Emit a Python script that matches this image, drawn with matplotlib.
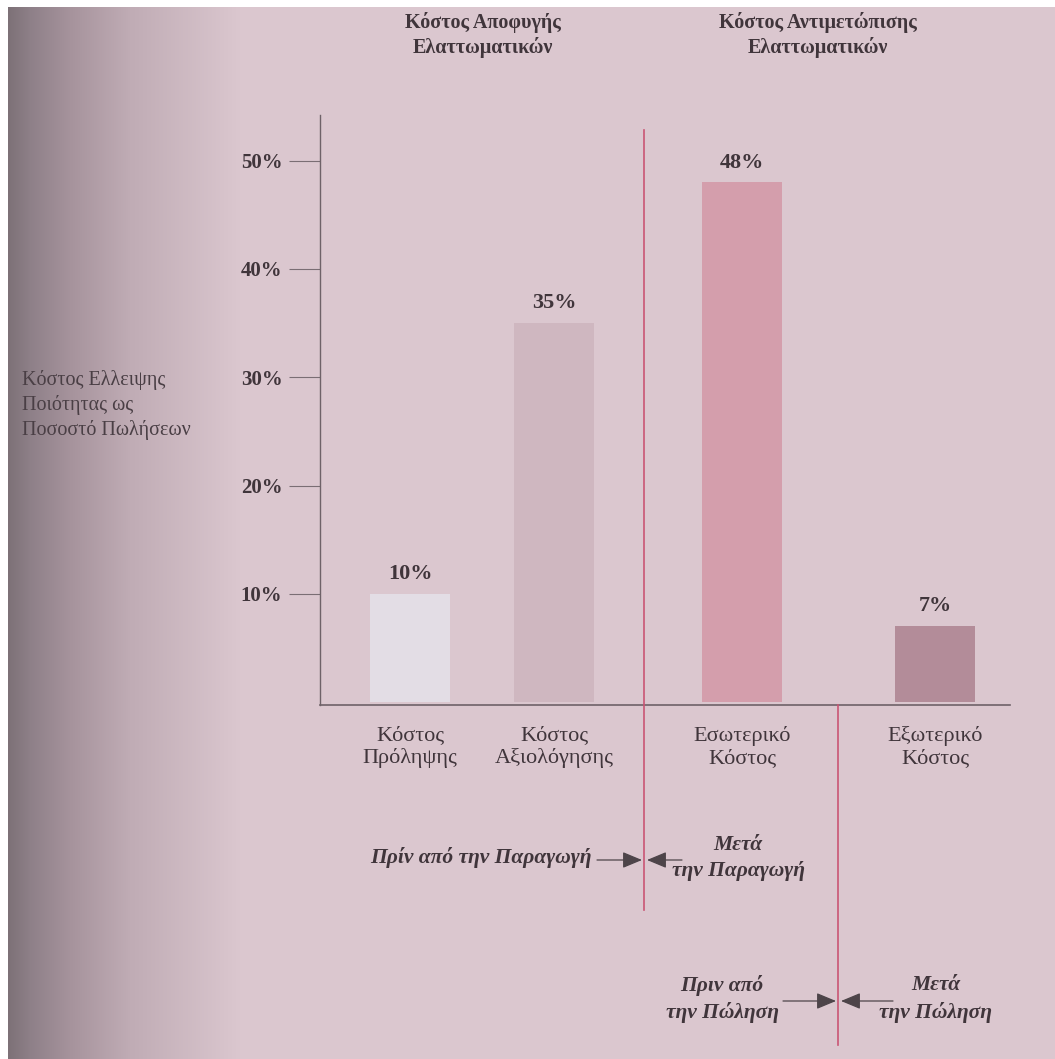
import numpy as np
import matplotlib
matplotlib.use("Agg")
import matplotlib.pyplot as plt
from matplotlib.colors import to_rgb
from matplotlib.patches import FancyArrowPatch

# ---- data ----
categories = ["Κόστος\nΠρόληψης", "Κόστος\nΑξιολόγησης", "Εσωτερικό\nΚόστος", "Εξωτερικό\nΚόστος"]
values = [10, 35, 48, 7]
value_labels = ["10%", "35%", "48%", "7%"]
yticks = [10, 20, 30, 40, 50]
ytick_labels = ["10%", "20%", "30%", "40%", "50%"]
group_titles = ["Κόστος Αποφυγής\nΕλαττωματικών", "Κόστος Αντιμετώπισης\nΕλαττωματικών"]
ylabel_text = "Κόστος Ελλειψης\nΠοιότητας ως\nΠοσοστό Πωλήσεων"

# ---- layout ----
W, H = 1055, 1059
pos = [90, 234, 422, 615]
bar_w = 80
bar_colors = ["#e3dde5", "#cfb7c0", "#d49eac", "#b38c99"]
bg = "#dbc7cf"
red = "#c95574"
txt = "#40353b"
serif = ["Liberation Serif", "DejaVu Serif"]

fig = plt.figure(figsize=(W / 100, H / 100), dpi=100)

# background (scanned page with shadow on left)
bax = fig.add_axes([0, 0, 1, 1], zorder=-10)
xs = np.arange(W)
stops_x = [0, 7, 8, 30, 70, 130, 240, W]
stops_c = [(1, 1, 1), (1, 1, 1), to_rgb("#7d7177"), to_rgb("#8e8088"),
           to_rgb("#a6939c"), to_rgb("#c0acb5"), to_rgb(bg), to_rgb(bg)]
row = np.stack([np.interp(xs, stops_x, [c[i] for c in stops_c]) for i in range(3)], axis=1)
img = np.repeat(row[None, :, :], H, axis=0)
img[:7, 8:, :] = 1.0
bax.imshow(img, aspect="auto", extent=[0, W, H, 0])
bax.set_axis_off()

# main axes: x from 320 to 1010 px, y from 705 (bottom) to 115 (top)
ax = fig.add_axes([320 / W, 1 - 705 / H, 690 / W, 590 / H])
ax.patch.set_alpha(0)
ax.set_xlim(0, 690)
ymax = (702 - 115) / 108.25 * 10
ax.set_ylim(-3 / 108.25 * 10, ymax)

ax.bar(pos, values, width=bar_w, color=bar_colors, zorder=2)
for x, v, lab in zip(pos, values, value_labels):
    ax.text(x, v + 0.9, lab, ha="center", va="bottom", fontsize=16,
            fontweight="bold", family=serif, color=txt)

for s in ["top", "right"]:
    ax.spines[s].set_visible(False)
ax.spines["left"].set_color("#6e6268")
ax.spines["bottom"].set_color("#6e6268")
ax.spines["left"].set_linewidth(1.0)
ax.spines["bottom"].set_linewidth(1.2)
ax.spines["bottom"].set_position(("data", -3 / 108.25 * 10))

ax.set_yticks(yticks)
ax.set_yticklabels(ytick_labels, fontsize=15, fontweight="bold", family=serif, color=txt)
ax.tick_params(axis="y", length=22, width=0.8, color="#7a6e74", pad=5)
ax.set_xticks(pos)
ax.set_xticklabels(categories, fontsize=16, family=serif, color=txt, linespacing=1.2)
ax.tick_params(axis="x", length=0, pad=15)

# red divider lines
ax.plot([324, 324], [(705 - 130) / 590, (705 - 910) / 590], color=red, lw=1.2,
        transform=ax.get_xaxis_transform(), clip_on=False, zorder=3)
ax.plot([518, 518], [0, (705 - 1045) / 590], color=red, lw=1.2,
        transform=ax.get_xaxis_transform(), clip_on=False, zorder=3)

# group titles
fig.text(483 / W, 1 - 35 / H, group_titles[0], ha="center", va="center", fontsize=14.5,
         fontweight="bold", family=serif, color=txt, linespacing=1.25)
fig.text(818 / W, 1 - 35 / H, group_titles[1], ha="center", va="center", fontsize=14.5,
         fontweight="bold", family=serif, color=txt, linespacing=1.25)

# y label
fig.text(22 / W, 1 - 405 / H, ylabel_text, ha="left", va="center", fontsize=14.5,
         family=serif, color="#4a3f45", linespacing=1.3)

# arrows
def arrow(x0, x1, y):
    fig.add_artist(FancyArrowPatch(
        (x0 / W, 1 - y / H), (x1 / W, 1 - y / H), transform=fig.transFigure,
        arrowstyle="-|>,head_length=1.2,head_width=0.5", mutation_scale=10,
        color="#4d4449", lw=0.9, shrinkA=0, shrinkB=0))

arrow(597, 642, 860)
arrow(682, 647, 860)
arrow(783, 836, 1001)
arrow(893, 841, 1001)

itkw = dict(fontsize=15.5, family=serif, style="italic", fontweight="bold", color=txt)
fig.text(592 / W, 1 - 858 / H, "Πρίν από την Παραγωγή", ha="right", va="center", **itkw)
fig.text(738 / W, 1 - 858 / H, "Μετά\nτην Παραγωγή", ha="center", va="center",
         linespacing=1.45, **itkw)
fig.text(722 / W, 1 - 999 / H, "Πριν από\nτην Πώληση", ha="center", va="center",
         linespacing=1.4, **itkw)
fig.text(936 / W, 1 - 999 / H, "Μετά\nτην Πώληση", ha="center", va="center",
         linespacing=1.4, **itkw)

fig.savefig("out.png", dpi=100)
